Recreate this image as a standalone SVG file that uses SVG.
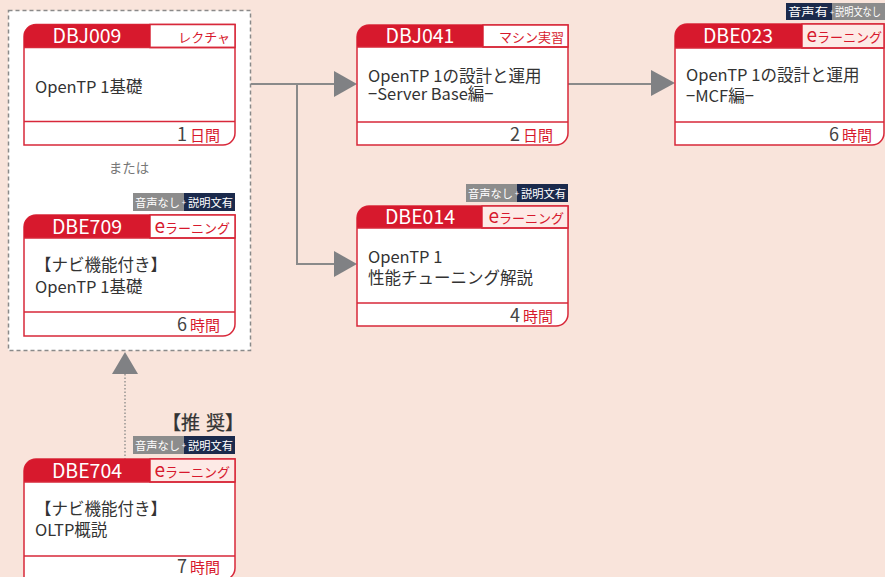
<svg xmlns="http://www.w3.org/2000/svg" width="885" height="577" viewBox="0 0 885 577">
<style>
text{font-family:"Noto Sans CJK JP","Noto Sans",sans-serif}
.outline{fill:#fff;stroke:#d8283a;stroke-width:1.5}
.hdr{fill:#d7192d}
.lbl{stroke:#d8283a;stroke-width:1.5}
.div{stroke:#d8283a;stroke-width:1.5}
.title{fill:#fff;font-size:19.5px;text-anchor:middle}
.ltext{fill:#d7192d;font-size:13px;text-anchor:end}
.ebig{font-size:19px}
.body{fill:#333;font-size:16.5px}
.foot{text-anchor:end}
.num{fill:#444;font-size:18px}
.unit{fill:#d7192d;font-size:15px}
.conn{fill:none;stroke:#8a8a8a;stroke-width:2}
.arrow{fill:#808184}
.bg{fill:#8c8c8c}
.bn{fill:#1b2a4c}
.btxt{fill:#fff;font-size:11.5px}
.plus{fill:#fff;font-size:8px;text-anchor:middle}
</style>
<rect width="885" height="577" fill="#f9e4db"/>
<rect x="8.5" y="10.5" width="242" height="340" fill="#fff" stroke="#8a8a8a" stroke-width="1.5" stroke-dasharray="4 3"/>
<text x="129" y="173" font-size="13.5" fill="#777" text-anchor="middle">または</text>
<text x="162" y="430" font-size="19" fill="#333" stroke="#333" stroke-width="0.25">【推<tspan dx="6">奨</tspan>】</text>

<g id="connectors">
<path class="conn" d="M251,84 H336"/>
<path class="conn" d="M297,84 V264 H336"/>
<path class="conn" d="M568,84 H653"/>
<polygon class="arrow" points="334,71 357,84 334,97"/>
<polygon class="arrow" points="334,251 357,264 334,277"/>
<polygon class="arrow" points="651,70 675,83 651,96"/>
<path d="M125,374 V459" fill="none" stroke="#888" stroke-width="1.3" stroke-dasharray="1.5 2"/>
<polygon class="arrow" points="125,352 112,374 138,374"/>
</g>

<g id="DBJ009">
<path class="outline" d="M24,36.5 A12,12 0 0 1 36,24.5 H235 V133 A12,12 0 0 1 223,145 H24 Z"/>
<rect class="lbl" x="150" y="24.5" width="85" height="23" fill="#fff"/>
<path class="hdr" d="M24,47.5 V36.5 A12,12 0 0 1 36,24.5 H150 V47.5 Z"/>
<path class="div" d="M24,47.5 H235 M24,121.5 H235"/>
<text class="title" x="87" y="43">DBJ009</text>
<text class="ltext" x="230" y="42">レクチャ</text>
<text class="body" x="35" y="93">OpenTP 1基礎</text>
<text class="foot" x="220" y="141"><tspan class="num">1</tspan><tspan class="unit" dx="3">日間</tspan></text>
</g>

<g id="DBE709">
<rect class="bg" x="133" y="193" width="51" height="18"/>
<rect class="bn" x="184" y="193" width="51" height="18"/>
<text class="btxt" x="135" y="206.5" textLength="45" lengthAdjust="spacingAndGlyphs">音声なし</text>
<text class="plus" x="184" y="205">+</text>
<text class="btxt" x="188" y="206.5" textLength="45" lengthAdjust="spacingAndGlyphs">説明文有</text>
<path class="outline" d="M24,227 A12,12 0 0 1 36,215 H235 V324 A12,12 0 0 1 223,336 H24 Z"/>
<rect class="lbl" x="150" y="215" width="85" height="23" fill="#fff"/>
<path class="hdr" d="M24,238 V227 A12,12 0 0 1 36,215 H150 V238 Z"/>
<path class="div" d="M24,238 H235 M24,312 H235"/>
<text class="title" x="87" y="233.5">DBE709</text>
<text class="ltext" x="230" y="233"><tspan class="ebig">e</tspan>ラーニング</text>
<text class="body" x="35" y="271">【ナビ機能付き】<tspan x="35" dy="22">OpenTP 1基礎</tspan></text>
<text class="foot" x="220" y="331"><tspan class="num">6</tspan><tspan class="unit" dx="3">時間</tspan></text>
</g>

<g id="DBE704">
<rect class="bg" x="133" y="436" width="51" height="18"/>
<rect class="bn" x="184" y="436" width="51" height="18"/>
<text class="btxt" x="135" y="449.5" textLength="45" lengthAdjust="spacingAndGlyphs">音声なし</text>
<text class="plus" x="184" y="448">+</text>
<text class="btxt" x="188" y="449.5" textLength="45" lengthAdjust="spacingAndGlyphs">説明文有</text>
<path class="outline" d="M24,471 A12,12 0 0 1 36,459 H235 V568 A12,12 0 0 1 223,580 H24 Z"/>
<rect class="lbl" x="150" y="459" width="85" height="23" fill="#fdeae6"/>
<path class="hdr" d="M24,482 V471 A12,12 0 0 1 36,459 H150 V482 Z"/>
<path class="div" d="M24,482 H235 M24,556 H235"/>
<text class="title" x="87" y="477.5">DBE704</text>
<text class="ltext" x="230" y="477"><tspan class="ebig">e</tspan>ラーニング</text>
<text class="body" x="35" y="515">【ナビ機能付き】<tspan x="35" dy="21">OLTP概説</tspan></text>
<text class="foot" x="220" y="573"><tspan class="num">7</tspan><tspan class="unit" dx="3">時間</tspan></text>
</g>

<g id="DBJ041">
<path class="outline" d="M357,37 A12,12 0 0 1 369,25 H568 V133 A12,12 0 0 1 556,145 H357 Z"/>
<rect class="lbl" x="483" y="25" width="85" height="22" fill="#fff"/>
<path class="hdr" d="M357,47 V37 A12,12 0 0 1 369,25 H483 V47 Z"/>
<path class="div" d="M357,47 H568 M357,122 H568"/>
<text class="title" x="420" y="43">DBJ041</text>
<text class="ltext" x="564" y="42">マシン実習</text>
<text class="body" x="368" y="82">OpenTP 1の設計と運用<tspan x="368" dy="18">−Server Base編−</tspan></text>
<text class="foot" x="553" y="141"><tspan class="num">2</tspan><tspan class="unit" dx="3">日間</tspan></text>
</g>

<g id="DBE014">
<rect class="bg" x="466" y="184" width="51" height="18"/>
<rect class="bn" x="517" y="184" width="51" height="18"/>
<text class="btxt" x="468" y="197.5" textLength="45" lengthAdjust="spacingAndGlyphs">音声なし</text>
<text class="plus" x="517" y="196">+</text>
<text class="btxt" x="521" y="197.5" textLength="45" lengthAdjust="spacingAndGlyphs">説明文有</text>
<path class="outline" d="M357,218 A12,12 0 0 1 369,206 H568 V314 A12,12 0 0 1 556,326 H357 Z"/>
<rect class="lbl" x="482" y="206" width="86" height="22" fill="#fdeae6"/>
<path class="hdr" d="M357,228 V218 A12,12 0 0 1 369,206 H482 V228 Z"/>
<path class="div" d="M357,228 H568 M357,303 H568"/>
<text class="title" x="420" y="224">DBE014</text>
<text class="ltext" x="564" y="223"><tspan class="ebig">e</tspan>ラーニング</text>
<text class="body" x="368" y="263">OpenTP 1<tspan x="368" dy="21">性能チューニング解説</tspan></text>
<text class="foot" x="553" y="322"><tspan class="num">4</tspan><tspan class="unit" dx="3">時間</tspan></text>
</g>

<g id="DBE023">
<rect class="bn" x="786" y="3" width="46" height="17"/>
<rect class="bg" x="832" y="3" width="53" height="17"/>
<text class="btxt" x="788" y="16" textLength="40" lengthAdjust="spacingAndGlyphs">音声有</text>
<text class="plus" x="832" y="15">+</text>
<text class="btxt" x="835" y="16" textLength="46" lengthAdjust="spacingAndGlyphs">説明文なし</text>
<path class="outline" d="M675,36 A12,12 0 0 1 687,24 H884 V133 A12,12 0 0 1 872,145 H675 Z"/>
<rect class="lbl" x="802" y="24" width="82" height="24" fill="#fdeae6"/>
<path class="hdr" d="M675,48 V36 A12,12 0 0 1 687,24 H802 V48 Z"/>
<path class="div" d="M675,48 H884 M675,122 H884"/>
<text class="title" x="738" y="43">DBE023</text>
<text class="ltext" x="882" y="42"><tspan class="ebig">e</tspan>ラーニング</text>
<text class="body" x="686" y="81">OpenTP 1の設計と運用<tspan x="686" dy="21">−MCF編−</tspan></text>
<text class="foot" x="872" y="141"><tspan class="num">6</tspan><tspan class="unit" dx="3">時間</tspan></text>
</g>
</svg>
